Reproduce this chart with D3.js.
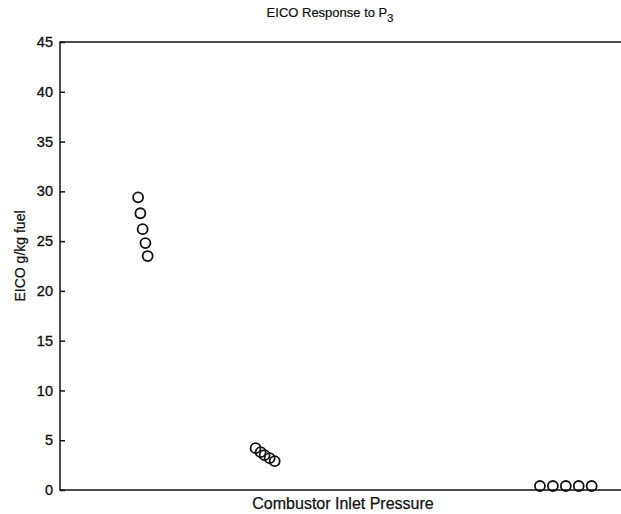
<!DOCTYPE html>
<html>
<head>
<meta charset="utf-8">
<script src="https://cdn.jsdelivr.net/npm/d3@7"></script>
<style>
  body { margin: 0; background: #fff; }
  svg { display: block; font-family: "Liberation Sans", Arial, sans-serif; }
</style>
</head>
<body>
<div id="chart"></div>
<script>
// pressure position (arbitrary units along the unlabeled x axis) and EICO values
const lowP_x = [13.9, 14.3, 14.7, 15.2, 15.6];
const lowP_eico = [29.4, 27.8, 26.2, 24.8, 23.5];
const midP_x = [34.8, 35.7, 36.4, 37.3, 38.2];
const midP_eico = [4.2, 3.8, 3.5, 3.2, 2.9];
const highP_x = [85.4, 87.7, 90.0, 92.3, 94.6];
const highP_eico = [0.4, 0.4, 0.4, 0.4, 0.4];
const yTicks = [0, 5, 10, 15, 20, 25, 30, 35, 40, 45];

const width = 621, height = 514;
const margin = {top: 42, right: -1, bottom: 24, left: 60};

const svg = d3.select("#chart").append("svg")
  .attr("width", width)
  .attr("height", height);

const x = d3.scaleLinear().domain([0, 100]).range([margin.left, width - margin.right]);
const y = d3.scaleLinear().domain([0, 45]).range([height - margin.bottom, margin.top]);

// frame
svg.append("rect")
  .attr("x", x(0)).attr("y", y(45))
  .attr("width", x(100) - x(0)).attr("height", y(0) - y(45))
  .attr("fill", "none").attr("stroke", "#111").attr("stroke-width", 1.5);

// y axis with inward ticks
const yAxis = svg.append("g")
  .attr("transform", `translate(${x(0)},0)`)
  .call(d3.axisLeft(y).tickValues(yTicks).tickSizeInner(-5).tickSizeOuter(0).tickPadding(7));
yAxis.select(".domain").remove();
yAxis.selectAll("line").attr("stroke", "#111").attr("stroke-width", 1.5);
yAxis.selectAll("text")
  .attr("font-size", 14.5)
  .attr("font-family", "Liberation Sans, Arial, sans-serif")
  .attr("fill", "#111")
  .attr("stroke", "#111").attr("stroke-width", 0.35);

// points
const points = [];
[[lowP_x, lowP_eico], [midP_x, midP_eico], [highP_x, highP_eico]].forEach(([xs, ys]) => {
  xs.forEach((v, i) => points.push({p: v, e: ys[i]}));
});

svg.append("g")
  .selectAll("circle")
  .data(points)
  .join("circle")
    .attr("cx", d => x(d.p))
    .attr("cy", d => y(d.e))
    .attr("r", 5)
    .attr("fill", "none")
    .attr("stroke", "#111")
    .attr("stroke-width", 1.8);

// title
const title = svg.append("text")
  .attr("x", 330).attr("y", 17)
  .attr("text-anchor", "middle")
  .attr("font-size", 13)
  .attr("fill", "#111")
  .attr("stroke", "#111").attr("stroke-width", 0.2);
title.append("tspan").text("EICO Response to P");
title.append("tspan").attr("dy", 5).attr("font-size", 11).text("3");

// axis labels
svg.append("text")
  .attr("x", 343).attr("y", 509)
  .attr("text-anchor", "middle")
  .attr("font-size", 16)
  .attr("fill", "#111")
  .attr("stroke", "#111").attr("stroke-width", 0.25)
  .text("Combustor Inlet Pressure");

svg.append("text")
  .attr("transform", `translate(25,256) rotate(-90)`)
  .attr("text-anchor", "middle")
  .attr("font-size", 14)
  .attr("fill", "#111")
  .attr("stroke", "#111").attr("stroke-width", 0.25)
  .text("EICO g/kg fuel");
</script>
</body>
</html>
